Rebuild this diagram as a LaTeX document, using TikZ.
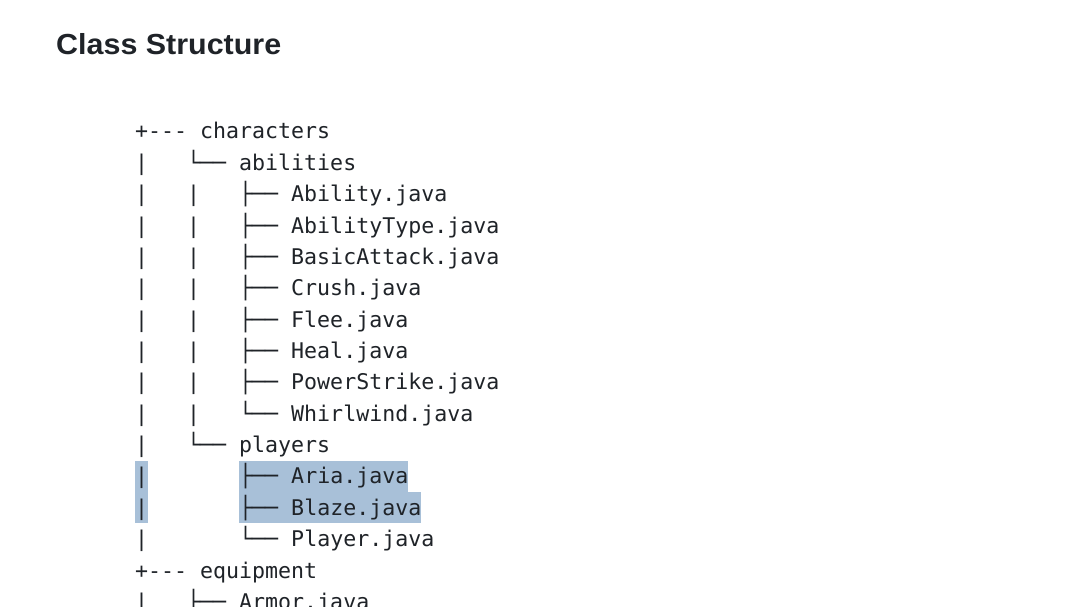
\documentclass[tikz,border=0pt]{standalone}
\usepackage{fontspec}
\newfontfamily\headfont[FakeStretch=1.05]{Liberation Sans}
\newfontfamily\codefont[Ligatures=TeXOff]{DejaVu Sans Mono}
\usetikzlibrary{calc,backgrounds}
\definecolor{paper}{HTML}{FFFFFF}
\definecolor{ink}{HTML}{1F2328}
\definecolor{selection}{HTML}{A8C0D8}

\begin{document}
\begin{tikzpicture}[
    x=1pt, y=-1pt,
    heading/.style={anchor=base west, inner sep=0pt, font=\headfont\bfseries\fontsize{29}{34}\selectfont, text=ink},
    code/.style={anchor=base west, inner sep=0pt, font=\codefont\fontsize{21.6}{31}\selectfont, text=ink},
    marked/.style={fill=selection},
  ]

  % Seitenfläche, feste Ränder
  \useasboundingbox (0, 0) rectangle (1066, 607);
  \clip (0, 0) rectangle (1066, 607);
  \begin{scope}[on background layer]
    \fill[paper] (0, 0) rectangle (1066, 607);
  \end{scope}

  % Überschrift
  \node[heading] (title) at (56, 55) {Class Structure};

  % Verzeichnisbaum, eine Zeile je Knoten
  \foreach \i/\t in {
      0/{+---~characters},
      1/{|~~~└──~abilities},
      2/{|~~~|~~~├──~Ability.java},
      3/{|~~~|~~~├──~AbilityType.java},
      4/{|~~~|~~~├──~BasicAttack.java},
      5/{|~~~|~~~├──~Crush.java},
      6/{|~~~|~~~├──~Flee.java},
      7/{|~~~|~~~├──~Heal.java},
      8/{|~~~|~~~├──~PowerStrike.java},
      9/{|~~~|~~~└──~Whirlwind.java},
      10/{|~~~└──~players},
      11/{|~~~~~~~├──~Aria.java},
      12/{|~~~~~~~├──~Blaze.java},
      13/{|~~~~~~~└──~Player.java},
      14/{+---~equipment},
      15/{|~~~├──~Armor.java}}
    \node[code] (l\i) at (135, {139 + \i*31.36}) {\t};

  % Markierung (Auswahl) hinter dem Text
  \begin{scope}[on background layer]
    \fill[marked] ($(l11.base west) + (0, -23.4)$) rectangle ($(l12.base west) + (13.03, 8)$);
    \fill[marked] ($(l11.base west) + (8*13.03, -23.4)$) rectangle ($(l11.base east) + (0, 8)$);
    \fill[marked] ($(l12.base west) + (8*13.03, -23.4)$) rectangle ($(l12.base east) + (0, 8)$);
  \end{scope}

\end{tikzpicture}
\end{document}
